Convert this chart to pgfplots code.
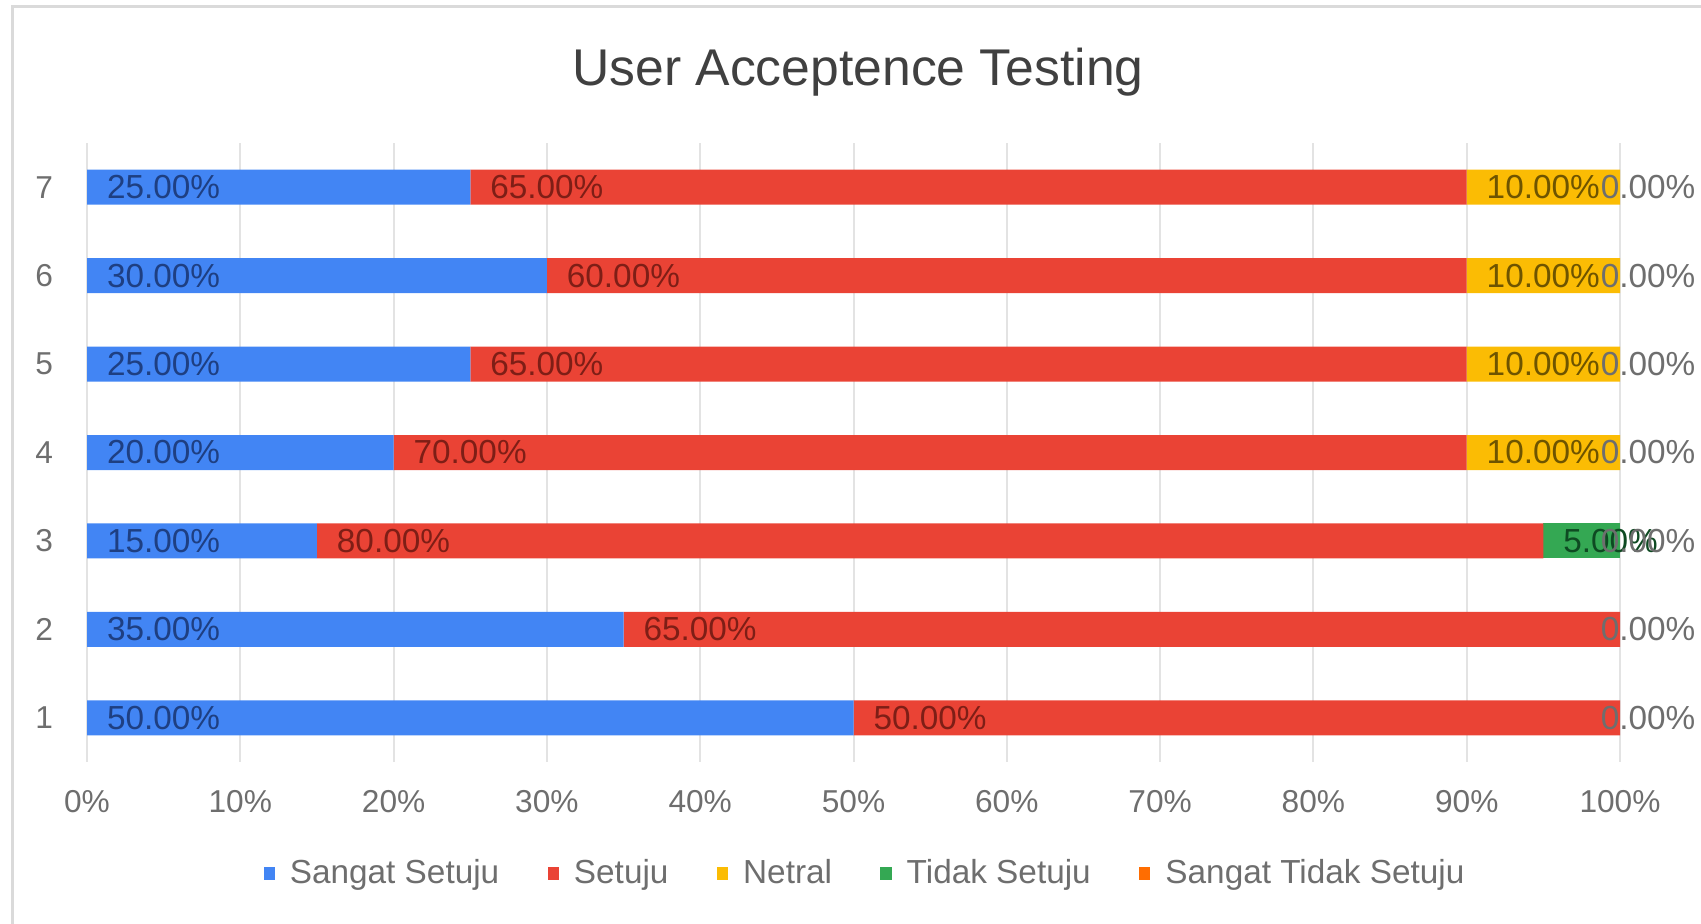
\documentclass[border=0pt]{standalone}
\usepackage{fontspec}
\setmainfont{Liberation Sans}
\usepackage{pgfplots}
\usepackage{pgfplotstable}
\pgfplotsset{compat=1.18}
\definecolor{cblue}{HTML}{4285F4}
\definecolor{cred}{HTML}{EA4335}
\definecolor{cyellow}{HTML}{FBBC04}
\definecolor{cgreen}{HTML}{34A853}
\definecolor{corange}{HTML}{FF6D01}
\definecolor{lblue}{HTML}{1E3F82}
\definecolor{lred}{HTML}{7E1E16}
\definecolor{lyellow}{HTML}{6E5400}
\definecolor{lgreen}{HTML}{0E4A22}
\definecolor{tickgray}{HTML}{6E6E6E}
\definecolor{titlegray}{HTML}{404040}
\definecolor{gridgray}{HTML}{E3E3E3}
\definecolor{framegray}{HTML}{DADADA}

\pgfplotstableread{
row ss s n ts sts
1 50 50 0 0 0
2 35 65 0 0 0
3 15 80 0 5 0
4 20 70 10 0 0
5 25 65 10 0 0
6 30 60 10 0 0
7 25 65 10 0 0
}\uac

\pgfplotsset{
  myaxis/.style={at={(26.1pt,48.3pt)}, anchor=south west, scale only axis,
    width=459.9pt, height=185.7pt, xmin=0, xmax=100, ymin=0.5, ymax=7.5},
  myleg/.style={legend image code/.code={\fill[##1] (0pt,-1.8pt) rectangle (3.4pt,2.0pt);}},
  lab/.style={draw=none, mark=none, nodes near coords={\pgfplotspointmeta\%},
    point meta=explicit symbolic,
    every node near coord/.style={anchor=west, xshift=#1, inner sep=0pt,
      font=\fontsize{10}{12}\selectfont}},
}

\begin{document}
\begin{tikzpicture}[x=1pt,y=1pt]
\useasboundingbox (0,0) rectangle (510.3,276.9);
\draw[framegray, line width=0.9pt] (3.6,-5) -- (3.6,274.8) -- (520,274.8);
\node[font=\fontsize{15.5}{18}\selectfont, text=titlegray] at (257.4,255.4) {User Acceptence Testing};

\begin{axis}[myaxis,
  xbar stacked, bar width=10.5pt,
  axis line style={draw=none},
  xtick={0,10,...,100},
  xticklabel={\pgfmathprintnumber{\tick}\%},
  ytick={1,...,7},
  tick style={draw=none},
  xmajorgrids, grid style={gridgray, line width=0.6pt},
  /pgf/number format/assume math mode=true,
  tick label style={text=tickgray, font=\fontsize{9.5}{11}\selectfont},
  xticklabel style={yshift=-5pt},
  yticklabel style={xshift=-6.7pt},
  every axis plot post/.append style={myleg},
  legend style={at={(0.509,-0.181)}, anchor=center, draw=none, fill=none,
    legend columns=-1, font=\fontsize{10}{12}\selectfont, text=tickgray,
    /tikz/every even column/.append style={column sep=12.5pt},
    /tikz/every odd column/.append style={column sep=2.5pt}},
]
\addplot[fill=cblue, draw=none] table[x=ss, y=row] {\uac};
\addplot[fill=cred, draw=none] table[x=s, y=row] {\uac};
\addplot[fill=cyellow, draw=none] table[x=n, y=row] {\uac};
\addplot[fill=cgreen, draw=none] table[x=ts, y=row] {\uac};
\addplot[fill=corange, draw=none] table[x=sts, y=row] {\uac};
\legend{Sangat Setuju, Setuju, Netral, Tidak Setuju, Sangat Tidak Setuju}
\end{axis}

\begin{axis}[myaxis, hide axis, clip=false]
\addplot[lab=5.8pt, text=lblue] table[x=x, y=y, meta=v] {
x y v
0 1 50.00
0 2 35.00
0 3 15.00
0 4 20.00
0 5 25.00
0 6 30.00
0 7 25.00
};
\addplot[lab=5.8pt, text=lred] table[x=x, y=y, meta=v] {
x y v
50 1 50.00
35 2 65.00
15 3 80.00
20 4 70.00
25 5 65.00
30 6 60.00
25 7 65.00
};
\addplot[lab=5.8pt, text=lyellow] table[x=x, y=y, meta=v] {
x y v
90 4 10.00
90 5 10.00
90 6 10.00
90 7 10.00
};
\addplot[lab=5.8pt, text=lgreen] table[x=x, y=y, meta=v] {
x y v
95 3 5.00
};
\addplot[lab=0pt, text=tickgray] table[x=x, y=y, meta=v] {
x y v
98.7 1 0.00
98.7 2 0.00
98.7 3 0.00
98.7 4 0.00
98.7 5 0.00
98.7 6 0.00
98.7 7 0.00
};
\end{axis}
\end{tikzpicture}
\end{document}
